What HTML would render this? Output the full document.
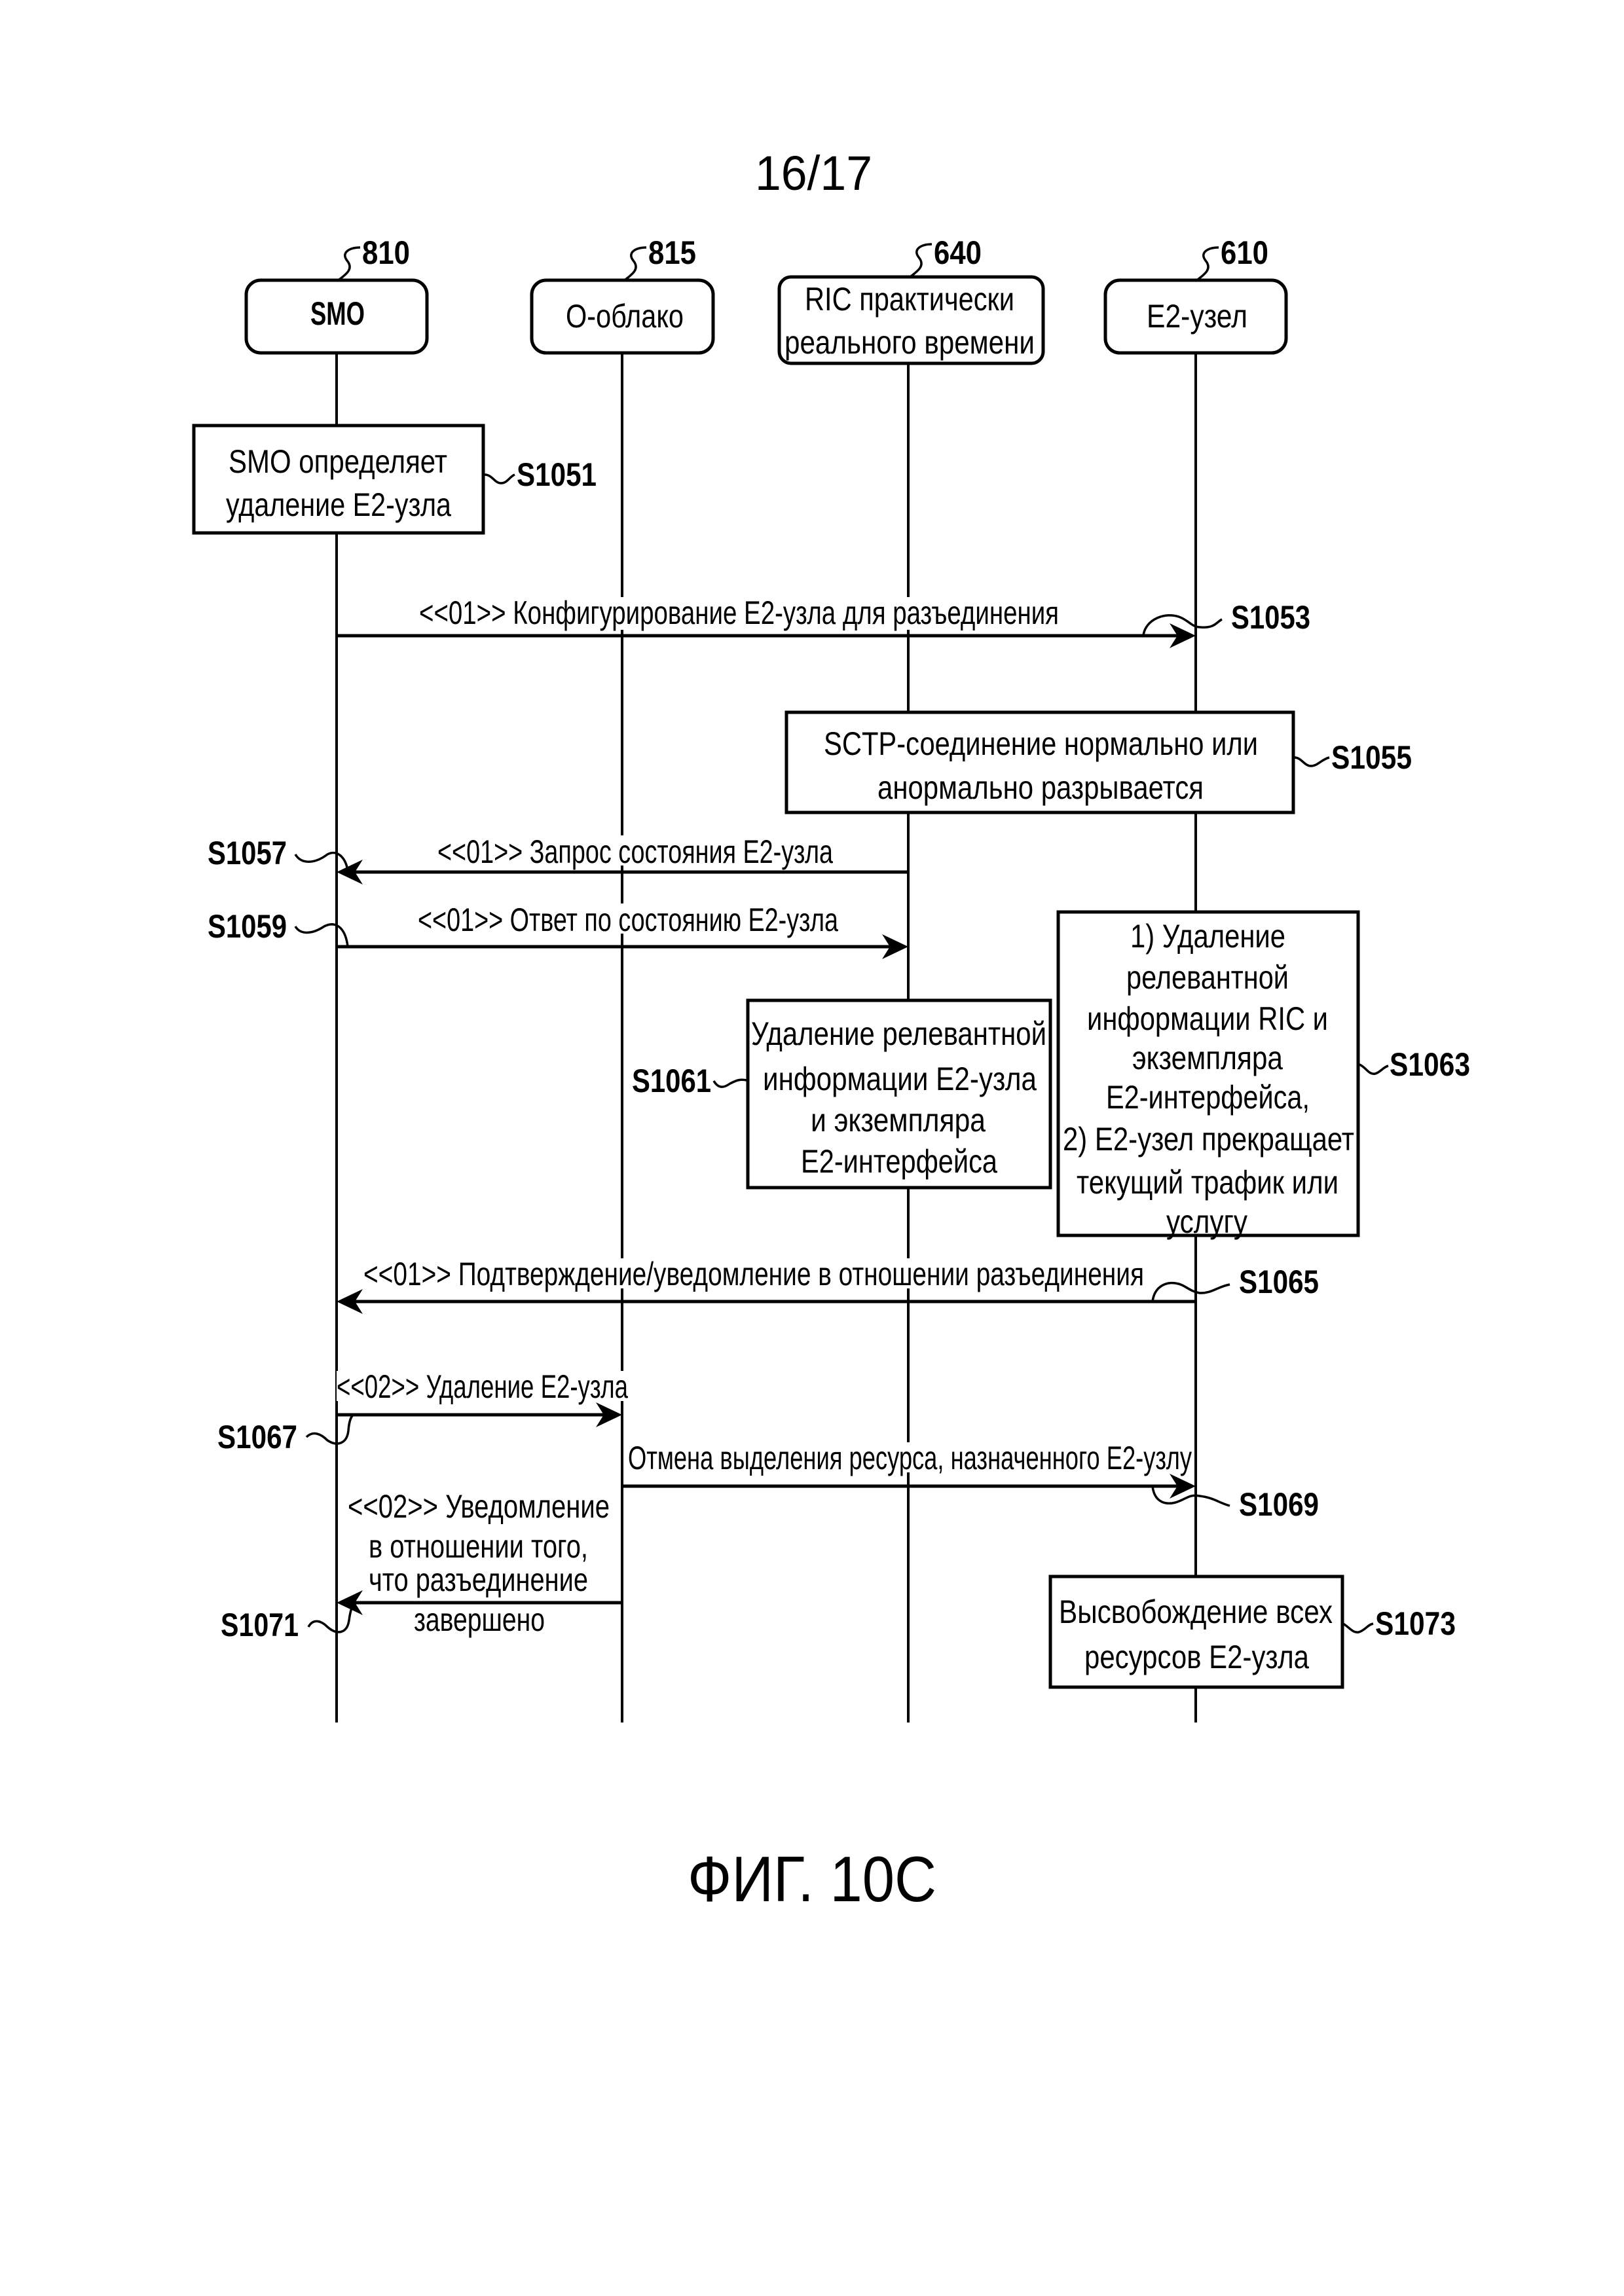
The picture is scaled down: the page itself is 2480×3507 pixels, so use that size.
<!DOCTYPE html>
<html><head><meta charset="utf-8"><style>html,body{margin:0;padding:0;background:#fff}svg{display:block}</style></head>
<body>
<svg width="2480" height="3507" viewBox="0 0 2480 3507" xmlns="http://www.w3.org/2000/svg" font-family="'Liberation Sans Narrow','Liberation Sans',sans-serif">
<defs>
<path id="ahR" d="M0,0 L-40,-19 L-28,0 L-40,19 Z"/>
</defs>
<rect width="2480" height="3507" fill="#fff"/>
<text x="1153" y="290" font-family="'Liberation Sans',sans-serif" font-size="74" textLength="179" lengthAdjust="spacingAndGlyphs">16/17</text>

<!-- lifelines -->
<g stroke="#000" stroke-width="4" fill="none">
<line x1="514" y1="539" x2="514" y2="2631"/>
<line x1="950" y1="539" x2="950" y2="2631"/>
<line x1="1387" y1="555" x2="1387" y2="2631"/>
<line x1="1826" y1="539" x2="1826" y2="2631"/>
</g>

<!-- header boxes -->
<g stroke="#000" stroke-width="5" fill="#fff">
<rect x="376" y="428" width="276" height="111" rx="22"/>
<rect x="812" y="428" width="277" height="111" rx="22"/>
<rect x="1190" y="423" width="403" height="132" rx="18"/>
<rect x="1688" y="428" width="276" height="111" rx="22"/>
</g>
<g font-size="50">
<text x="474" y="496" font-weight="bold" textLength="83" lengthAdjust="spacingAndGlyphs">SMO</text>
<text x="864" y="500" textLength="180" lengthAdjust="spacingAndGlyphs">О-облако</text>
<text x="1229" y="474" textLength="320" lengthAdjust="spacingAndGlyphs">RIC практически</text>
<text x="1198" y="540" textLength="382" lengthAdjust="spacingAndGlyphs">реального времени</text>
<text x="1751" y="500" textLength="154" lengthAdjust="spacingAndGlyphs">E2-узел</text>
</g>
<!-- ref numbers -->
<g font-size="50" font-weight="bold">
<text x="553" y="403" textLength="73" lengthAdjust="spacingAndGlyphs">810</text>
<text x="990" y="403" textLength="73" lengthAdjust="spacingAndGlyphs">815</text>
<text x="1426" y="403" textLength="73" lengthAdjust="spacingAndGlyphs">640</text>
<text x="1864" y="403" textLength="73" lengthAdjust="spacingAndGlyphs">610</text>
</g>
<g stroke="#000" stroke-width="3.5" fill="none">
<path d="M518,427 C530,418 540,410 530,398 C520,385 535,378 550,378"/>
<path d="M955,427 C967,418 977,410 967,398 C957,385 972,378 987,378"/>
<path d="M1391,422 C1403,413 1413,405 1403,393 C1393,380 1408,373 1423,373"/>
<path d="M1829,427 C1841,418 1851,410 1841,398 C1831,385 1846,378 1861,378"/>
</g>

<!-- S1051 box -->
<rect x="296" y="650" width="442" height="164" fill="#fff" stroke="#000" stroke-width="5"/>
<g font-size="50">
<text x="349" y="722" textLength="334" lengthAdjust="spacingAndGlyphs">SMO определяет</text>
<text x="345" y="788" textLength="344" lengthAdjust="spacingAndGlyphs">удаление E2-узла</text>
</g>

<!-- arrow 1053 -->
<rect x="640" y="912" width="977" height="50" fill="#fff"/>
<text x="640" y="953" font-size="50" textLength="977" lengthAdjust="spacingAndGlyphs">&lt;&lt;01&gt;&gt; Конфигурирование E2-узла для разъединения</text>
<line x1="514" y1="971" x2="1800" y2="971" stroke="#000" stroke-width="5"/>
<use href="#ahR" x="1826" y="971"/>

<!-- SCTP box -->
<rect x="1201" y="1088" width="774" height="153" fill="#fff" stroke="#000" stroke-width="5"/>
<g font-size="50">
<text x="1258" y="1153" textLength="663" lengthAdjust="spacingAndGlyphs">SCTP-соединение нормально или</text>
<text x="1340" y="1220" textLength="498" lengthAdjust="spacingAndGlyphs">анормально разрывается</text>
</g>

<!-- arrow 1057 -->
<rect x="668" y="1276" width="604" height="46" fill="#fff"/>
<text x="668" y="1318" font-size="50" textLength="604" lengthAdjust="spacingAndGlyphs">&lt;&lt;01&gt;&gt; Запрос состояния E2-узла</text>
<line x1="540" y1="1332" x2="1387" y2="1332" stroke="#000" stroke-width="5"/>
<use href="#ahR" transform="translate(514,1332) scale(-1,1)"/>

<!-- arrow 1059 -->
<rect x="638" y="1380" width="642" height="46" fill="#fff"/>
<text x="638" y="1422" font-size="50" textLength="642" lengthAdjust="spacingAndGlyphs">&lt;&lt;01&gt;&gt; Ответ по состоянию E2-узла</text>
<line x1="514" y1="1446" x2="1360" y2="1446" stroke="#000" stroke-width="5"/>
<use href="#ahR" x="1387" y="1446"/>

<!-- S1061 box -->
<rect x="1142" y="1528" width="462" height="286" fill="#fff" stroke="#000" stroke-width="5"/>
<g font-size="50">
<text x="1147" y="1596" textLength="451" lengthAdjust="spacingAndGlyphs">Удаление релевантной</text>
<text x="1165" y="1665" textLength="418" lengthAdjust="spacingAndGlyphs">информации E2-узла</text>
<text x="1238" y="1728" textLength="267" lengthAdjust="spacingAndGlyphs">и экземпляра</text>
<text x="1223" y="1791" textLength="300" lengthAdjust="spacingAndGlyphs">E2-интерфейса</text>
</g>

<!-- S1063 box -->
<rect x="1616" y="1393" width="458" height="494" fill="#fff" stroke="#000" stroke-width="5"/>
<g font-size="50">
<text x="1726" y="1447" textLength="237" lengthAdjust="spacingAndGlyphs">1) Удаление</text>
<text x="1720" y="1510" textLength="248" lengthAdjust="spacingAndGlyphs">релевантной</text>
<text x="1660" y="1573" textLength="368" lengthAdjust="spacingAndGlyphs">информации RIC и</text>
<text x="1729" y="1633" textLength="230" lengthAdjust="spacingAndGlyphs">экземпляра</text>
<text x="1689" y="1693" textLength="311" lengthAdjust="spacingAndGlyphs">E2-интерфейса,</text>
<text x="1623" y="1757" textLength="445" lengthAdjust="spacingAndGlyphs">2) E2-узел прекращает</text>
<text x="1644" y="1823" textLength="400" lengthAdjust="spacingAndGlyphs">текущий трафик или</text>
<text x="1781" y="1883" textLength="124" lengthAdjust="spacingAndGlyphs">услугу</text>
</g>

<!-- arrow 1065 -->
<rect x="555" y="1922" width="1192" height="46" fill="#fff"/>
<text x="555" y="1963" font-size="50" textLength="1192" lengthAdjust="spacingAndGlyphs">&lt;&lt;01&gt;&gt; Подтверждение/уведомление в отношении разъединения</text>
<line x1="540" y1="1988" x2="1826" y2="1988" stroke="#000" stroke-width="5"/>
<use href="#ahR" transform="translate(514,1988) scale(-1,1)"/>

<!-- arrow 1067 -->
<rect x="514" y="2094" width="445" height="46" fill="#fff"/>
<text x="514" y="2135" font-size="50" textLength="445" lengthAdjust="spacingAndGlyphs">&lt;&lt;02&gt;&gt; Удаление E2-узла</text>
<line x1="514" y1="2161" x2="925" y2="2161" stroke="#000" stroke-width="5"/>
<use href="#ahR" x="950" y="2161"/>

<!-- arrow 1069 -->
<rect x="959" y="2203" width="861" height="46" fill="#fff"/>
<text x="959" y="2244" font-size="50" textLength="861" lengthAdjust="spacingAndGlyphs">Отмена выделения ресурса, назначенного E2-узлу</text>
<line x1="950" y1="2270" x2="1800" y2="2270" stroke="#000" stroke-width="5"/>
<use href="#ahR" x="1826" y="2270"/>

<!-- arrow 1071 -->
<rect x="531" y="2277" width="400" height="220" fill="#fff"/>
<g font-size="50">
<text x="531" y="2318" textLength="400" lengthAdjust="spacingAndGlyphs">&lt;&lt;02&gt;&gt; Уведомление</text>
<text x="563" y="2379" textLength="335" lengthAdjust="spacingAndGlyphs">в отношении того,</text>
<text x="563" y="2430" textLength="335" lengthAdjust="spacingAndGlyphs">что разъединение</text>
<text x="632" y="2491" textLength="200" lengthAdjust="spacingAndGlyphs">завершено</text>
</g>
<line x1="540" y1="2448" x2="950" y2="2448" stroke="#000" stroke-width="5"/>
<use href="#ahR" transform="translate(514,2448) scale(-1,1)"/>

<!-- S1073 box -->
<rect x="1604" y="2408" width="446" height="169" fill="#fff" stroke="#000" stroke-width="5"/>
<g font-size="50">
<text x="1617" y="2479" textLength="418" lengthAdjust="spacingAndGlyphs">Высвобождение всех</text>
<text x="1656" y="2548" textLength="343" lengthAdjust="spacingAndGlyphs">ресурсов E2-узла</text>
</g>

<!-- step labels -->
<g font-size="50" font-weight="bold">
<text x="789" y="742" textLength="122" lengthAdjust="spacingAndGlyphs">S1051</text>
<text x="1880" y="960" textLength="121" lengthAdjust="spacingAndGlyphs">S1053</text>
<text x="2033" y="1174" textLength="123" lengthAdjust="spacingAndGlyphs">S1055</text>
<text x="317" y="1320" textLength="121" lengthAdjust="spacingAndGlyphs">S1057</text>
<text x="317" y="1432" textLength="121" lengthAdjust="spacingAndGlyphs">S1059</text>
<text x="965" y="1668" textLength="121" lengthAdjust="spacingAndGlyphs">S1061</text>
<text x="2122" y="1643" textLength="123" lengthAdjust="spacingAndGlyphs">S1063</text>
<text x="1892" y="1975" textLength="122" lengthAdjust="spacingAndGlyphs">S1065</text>
<text x="332" y="2212" textLength="122" lengthAdjust="spacingAndGlyphs">S1067</text>
<text x="1892" y="2315" textLength="122" lengthAdjust="spacingAndGlyphs">S1069</text>
<text x="337" y="2499" textLength="119" lengthAdjust="spacingAndGlyphs">S1071</text>
<text x="2100" y="2497" textLength="123" lengthAdjust="spacingAndGlyphs">S1073</text>
</g>
<!-- squiggles -->
<g stroke="#000" stroke-width="3.5" fill="none">
<path d="M740,725 C752,725 755,738 765,738 C775,738 778,728 786,725"/>
<path d="M1746,970 C1750,945 1780,935 1800,942 C1815,947 1820,958 1833,958 C1855,960 1858,950 1866,946"/>
<path d="M1977,1157 C1987,1157 1992,1170 2002,1170 C2012,1170 2018,1160 2030,1157"/>
<path d="M451,1305 C460,1320 480,1320 500,1305 C515,1297 528,1310 531,1330"/>
<path d="M451,1415 C460,1430 480,1425 495,1415 C515,1405 528,1420 531,1446"/>
<path d="M1090,1651 C1098,1665 1108,1660 1115,1655 C1125,1650 1130,1648 1140,1650"/>
<path d="M2076,1626 C2086,1630 2090,1642 2100,1640 C2108,1638 2112,1630 2120,1628"/>
<path d="M1760,1988 C1763,1965 1780,1958 1795,1960 C1810,1962 1815,1972 1832,1975 C1850,1976 1860,1965 1878,1962"/>
<path d="M468,2195 C478,2185 490,2190 500,2200 C515,2210 530,2205 532,2185 C533,2172 536,2163 540,2161"/>
<path d="M1760,2270 C1762,2290 1775,2300 1795,2295 C1812,2290 1815,2282 1832,2285 C1855,2288 1860,2295 1878,2300"/>
<path d="M471,2485 C478,2472 490,2475 500,2485 C515,2498 530,2495 533,2475 C535,2460 538,2452 541,2450"/>
<path d="M2051,2480 C2060,2485 2066,2495 2075,2493 C2085,2490 2088,2482 2097,2480"/>
</g>

<text x="1050" y="2904" font-family="'Liberation Sans',sans-serif" font-size="98" textLength="380" lengthAdjust="spacingAndGlyphs">ФИГ. 10C</text>
</svg>
</body></html>
